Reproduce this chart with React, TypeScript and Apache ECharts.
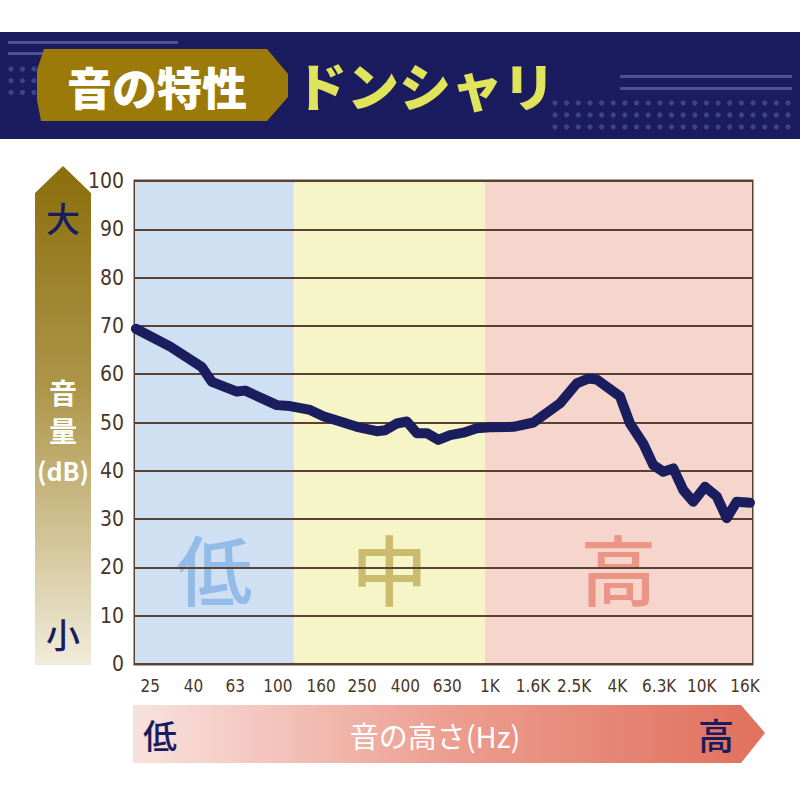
import { useEffect, useRef } from "react";
import * as echarts from "echarts";

// ---- data ----
const freqLabels = ["25", "40", "63", "100", "160", "250", "400", "630", "1K", "1.6K", "2.5K", "4K", "6.3K", "10K", "16K"];
const freqLabelHz = [25, 40, 63, 100, 160, 250, 400, 630, 1000, 1600, 2500, 4000, 6300, 10000, 16000];
const xRangeHz = [21.2, 17260];

const curveHz = [
  21.4, 31.1, 43.8, 48.9, 64.1, 70.2, 99, 114, 142, 164, 236, 293, 321, 364, 406, 453, 505, 572, 650,
  751, 868, 1003, 1292, 1606, 2146, 2573, 2917, 3196, 4116, 4587, 5300, 5908, 6587, 7341, 8185, 9124,
  10358, 11762, 13112, 14618, 16885,
];
const curveDb = [
  69.4, 65.7, 61.5, 58.4, 56.4, 56.6, 53.6, 53.4, 52.6, 51.3, 49.1, 48.2, 48.4, 49.8, 50.2, 47.8, 47.8, 46.4, 47.4,
  47.9, 48.8, 49.0, 49.1, 50.0, 54.0, 58.1, 59.1, 58.9, 55.4, 49.8, 45.6, 41.2, 39.8, 40.5, 36.0, 33.6,
  36.7, 34.7, 30.2, 33.6, 33.4,
];

const bandEdgesHz = [21.2, 119, 950, 17260];
const bandNames = ["低", "中", "高"];
const bandFill = ["#cfe0f3", "#f5f5c8", "#f6d5cd"];
const bandText = ["#93bbe8", "#cbbb6c", "#ea9585"];

const yMin = 0;
const yMax = 100;
const yStep = 10;

const NAVY = "#1a1c5f";
const BROWN = "#5a4232";
const NARROW = "'Liberation Sans Narrow', 'DejaVu Sans Condensed', Roboto, 'Noto Sans', sans-serif";
const JP = "'Noto Sans CJK JP', 'Noto Sans', sans-serif";

const lg = (v: number) => Math.log10(v);

function buildGraphic() {
  const els: any[] = [];
  // header band
  els.push({ type: "rect", shape: { x: 0, y: 32, width: 800, height: 107 }, style: { fill: NAVY }, z: 1 });
  // decorative lines
  const lineCol = "#4b5394";
  els.push({ type: "rect", shape: { x: 8, y: 41, width: 170, height: 3 }, style: { fill: lineCol }, z: 2 });
  els.push({ type: "rect", shape: { x: 8, y: 52, width: 40, height: 3 }, style: { fill: lineCol }, z: 2 });
  els.push({ type: "rect", shape: { x: 620, y: 75, width: 172, height: 3 }, style: { fill: lineCol }, z: 2 });
  els.push({ type: "rect", shape: { x: 620, y: 87, width: 172, height: 3 }, style: { fill: lineCol }, z: 2 });
  const dotCol = "#3d4488";
  for (let r = 0; r < 3; r++) {
    for (let c = 0; c < 21; c++) {
      els.push({ type: "circle", shape: { cx: 555 + c * 11.65, cy: 103 + r * 12, r: 2.6 }, style: { fill: dotCol }, z: 2 });
    }
    for (let c = 0; c < 3; c++) {
      els.push({ type: "circle", shape: { cx: 11 + c * 11.5, cy: 69 + r * 11.7, r: 2.6 }, style: { fill: dotCol }, z: 2 });
    }
  }
  // badge
  els.push({
    type: "polygon",
    shape: { points: [[44, 49], [267, 49], [288, 74], [288, 97], [267, 121], [41, 121], [37, 100], [37, 70]] },
    style: { fill: "#9c7a0a" },
    z: 3,
  });
  els.push({
    type: "text",
    x: 157,
    y: 86,
    style: { text: "音の特性", fill: "#ffffff", font: `900 45px ${JP}`, align: "center", verticalAlign: "middle" },
    z: 4,
  });
  els.push({
    type: "text",
    x: 425,
    y: 84,
    style: {
      text: "ドンシャリ",
      fill: "#e0e45a",
      font: `900 52px ${JP}`,
      align: "center",
      verticalAlign: "middle",
      textShadowColor: "#000000",
      textShadowOffsetX: 2,
      textShadowOffsetY: 2,
      textShadowBlur: 0,
    },
    z: 4,
  });
  // vertical arrow (volume)
  els.push({
    type: "polygon",
    shape: { points: [[35, 193], [63, 166], [91, 193], [91, 665], [35, 665]] },
    style: {
      fill: new echarts.graphic.LinearGradient(0, 0, 0, 1, [
        { offset: 0, color: "#8a6e0c" },
        { offset: 0.45, color: "#ae964a" },
        { offset: 1, color: "#f1ecda" },
      ]),
    },
    z: 1,
  });
  const vt = (t: string, y: number, col: string, size: number, w: string) =>
    els.push({
      type: "text",
      x: 63,
      y,
      style: { text: t, fill: col, font: `${w} ${size}px ${JP}`, align: "center", verticalAlign: "middle" },
      z: 2,
    });
  vt("大", 217, NAVY, 34, "500");
  vt("音", 392, "#ffffff", 28, "bold");
  vt("量", 430, "#ffffff", 28, "bold");
  vt("(dB)", 470, "#ffffff", 25, "bold");
  vt("小", 633, NAVY, 34, "500");
  // horizontal arrow (pitch)
  els.push({
    type: "polygon",
    shape: { points: [[133, 705], [741, 705], [765, 733], [741, 763], [133, 763]] },
    style: {
      fill: new echarts.graphic.LinearGradient(0, 0, 1, 0, [
        { offset: 0, color: "#f8e2de" },
        { offset: 0.5, color: "#ec9e90" },
        { offset: 1, color: "#e0705c" },
      ]),
    },
    z: 1,
  });
  els.push({
    type: "text",
    x: 160,
    y: 734,
    style: { text: "低", fill: NAVY, font: `500 34px ${JP}`, align: "center", verticalAlign: "middle" },
    z: 2,
  });
  els.push({
    type: "text",
    x: 716,
    y: 734,
    style: { text: "高", fill: NAVY, font: `500 36px ${JP}`, align: "center", verticalAlign: "middle" },
    z: 2,
  });
  els.push({
    type: "text",
    x: 435,
    y: 735,
    style: { text: "音の高さ(Hz)", fill: "#ffffff", font: `normal 29px ${JP}`, align: "center", verticalAlign: "middle" },
    z: 2,
  });
  // plot frame
  els.push({
    type: "rect",
    shape: { x: 135, y: 181, width: 617, height: 483 },
    style: { fill: "none", stroke: BROWN, lineWidth: 3 },
    z: 1,
  });
  return els;
}

export default function App() {
  const ref = useRef<HTMLDivElement>(null);
  useEffect(() => {
    if (!ref.current) return;
    const chart = echarts.init(ref.current, undefined, { renderer: "svg" });
    const seriesData = curveHz.map((f, i) => [lg(f), curveDb[i]]);
    const areas = bandNames.map((name, i) => [
      {
        name,
        xAxis: lg(bandEdgesHz[i]),
        itemStyle: { color: bandFill[i] },
        label: {
          show: true,
          position: ["50%", "80%"],
          align: "center",
          verticalAlign: "middle",
          fontSize: 76,
          fontFamily: JP,
          fontWeight: 500,
          color: bandText[i],
        },
      },
      { xAxis: lg(bandEdgesHz[i + 1]) },
    ]);
    chart.setOption({
      animation: false,
      backgroundColor: "#ffffff",
      grid: { left: 135, right: 48, top: 181, bottom: 136, containLabel: false },
      xAxis: {
        type: "value",
        min: lg(xRangeHz[0]),
        max: lg(xRangeHz[1]),
        splitLine: { show: false },
        axisTick: { show: false },
        axisLine: { show: false },
        axisLabel: {
          customValues: freqLabelHz.map(lg),
          formatter: (v: number) => {
            let best = 0;
            freqLabelHz.forEach((f, i) => {
              if (Math.abs(lg(f) - v) < Math.abs(lg(freqLabelHz[best]) - v)) best = i;
            });
            return freqLabels[best];
          },
          color: "#4a3628",
          fontSize: 17,
          fontFamily: NARROW,
          margin: 13,
        },
      },
      yAxis: {
        type: "value",
        min: yMin,
        max: yMax,
        interval: yStep,
        z: 3,
        axisLine: { show: false },
        axisTick: { show: false },
        splitLine: { show: true, lineStyle: { color: BROWN, width: 2 } },
        axisLabel: { color: "#4a3628", fontSize: 21, fontFamily: NARROW, margin: 11 },
      },
      graphic: buildGraphic(),
      series: [
        {
          type: "line",
          data: seriesData,
          symbol: "none",
          z: 5,
          lineStyle: { color: "#1b1e5e", width: 10, cap: "round", join: "round" },
          markArea: { silent: true, z: 1, data: areas },
        },
      ],
    });
    return () => chart.dispose();
  }, []);
  return <div ref={ref} style={{ position: "fixed", left: 0, top: 0, width: 800, height: 800 }} />;
}
